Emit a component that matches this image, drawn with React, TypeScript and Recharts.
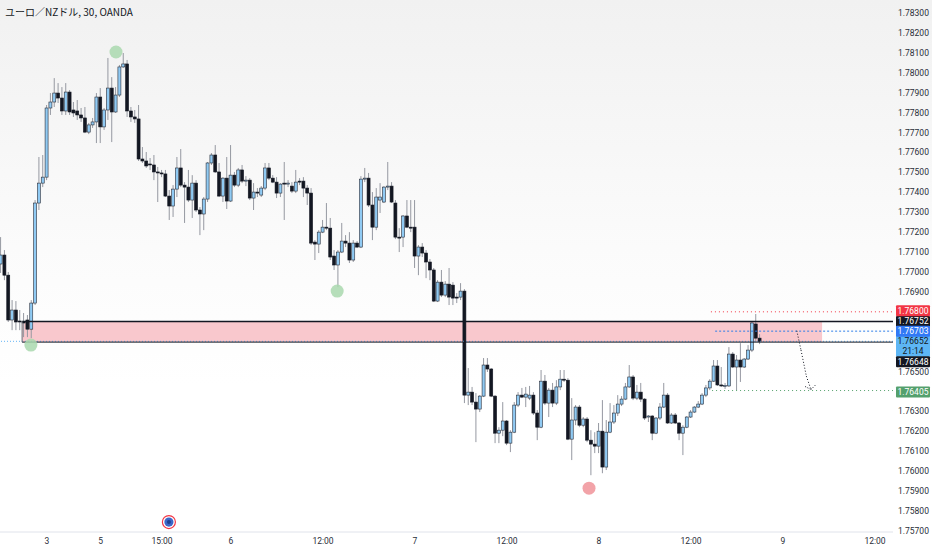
import React from "react";
import {
  ComposedChart,
  Bar,
  XAxis,
  YAxis,
  ReferenceArea,
  ReferenceLine,
  ReferenceDot,
} from "recharts";

// EUR/NZD 30分足（OANDA）。バー番号 0 = 3日 0:00
const FIRST_BAR = -12;

// [始値, 高値, 安値, 終値]
const ohlc = [
  [1.7704, 1.77175, 1.76995, 1.77085], [1.77085, 1.7711, 1.76959, 1.76984],
  [1.76984, 1.77, 1.76749, 1.76759], [1.76759, 1.76859, 1.76708, 1.76809],
  [1.76809, 1.76854, 1.76708, 1.76749], [1.76754, 1.76809, 1.76708, 1.76749],
  [1.76749, 1.76794, 1.76673, 1.76746], [1.76759, 1.76784, 1.76673, 1.76713],
  [1.76713, 1.76859, 1.76668, 1.76844], [1.76844, 1.77361, 1.76834, 1.77346],
  [1.77346, 1.77577, 1.77311, 1.77446], [1.77446, 1.77587, 1.77426, 1.77476],
  // 3日
  [1.77476, 1.77838, 1.77461, 1.77823], [1.77823, 1.77898, 1.77788, 1.77853],
  [1.77853, 1.77973, 1.77828, 1.77898], [1.77898, 1.77948, 1.77848, 1.77873],
  [1.77873, 1.77928, 1.77788, 1.77808], [1.77808, 1.77948, 1.77788, 1.77903],
  [1.77903, 1.77913, 1.77788, 1.77803], [1.77813, 1.77853, 1.77778, 1.77798],
  [1.77808, 1.77863, 1.77763, 1.77788], [1.77788, 1.77823, 1.77753, 1.77773],
  [1.77773, 1.77828, 1.77697, 1.77702], [1.77702, 1.77748, 1.77692, 1.77738],
  [1.77738, 1.77773, 1.77723, 1.77753], [1.77753, 1.77898, 1.77647, 1.77878],
  // 5日
  [1.77878, 1.77923, 1.77647, 1.77728], [1.77728, 1.77823, 1.77713, 1.77813],
  [1.77813, 1.78074, 1.77763, 1.77923], [1.77923, 1.77978, 1.77652, 1.77803],
  [1.77803, 1.77928, 1.77798, 1.77888], [1.77888, 1.78039, 1.77878, 1.78029],
  [1.78029, 1.78099, 1.78024, 1.78044], [1.78044, 1.78064, 1.77778, 1.77808],
  [1.77808, 1.77828, 1.77753, 1.77778], [1.77778, 1.77813, 1.77748, 1.77768],
  [1.77768, 1.77838, 1.77557, 1.77567], [1.77567, 1.77627, 1.77547, 1.77557],
  [1.77557, 1.77602, 1.77522, 1.77532], [1.77542, 1.77572, 1.77512, 1.77537],
  [1.77537, 1.77587, 1.77461, 1.77502], [1.77502, 1.77527, 1.77351, 1.77497],
  // 15:00
  [1.77497, 1.77512, 1.77476, 1.77492], [1.77492, 1.77512, 1.77376, 1.77381],
  [1.77381, 1.77411, 1.77261, 1.77331], [1.77331, 1.77436, 1.77276, 1.77416],
  [1.77416, 1.77577, 1.77376, 1.77522], [1.77522, 1.77617, 1.77426, 1.77436],
  [1.77436, 1.77451, 1.77246, 1.77426], [1.77426, 1.77512, 1.77351, 1.77361],
  [1.77361, 1.77486, 1.77271, 1.77446], [1.77446, 1.77461, 1.77301, 1.77311],
  [1.77311, 1.77326, 1.77185, 1.77291], [1.77291, 1.77376, 1.7721, 1.77366],
  [1.77366, 1.77552, 1.77351, 1.77547], [1.77547, 1.77597, 1.77537, 1.77587],
  [1.77587, 1.77637, 1.77497, 1.77502], [1.77502, 1.77547, 1.77376, 1.77381],
  [1.77381, 1.77476, 1.77351, 1.77471], [1.77471, 1.77577, 1.77316, 1.77356],
  // 6日
  [1.77356, 1.77637, 1.77351, 1.77486], [1.77486, 1.77502, 1.77426, 1.77436],
  [1.77436, 1.77522, 1.77426, 1.77512], [1.77512, 1.77537, 1.77446, 1.77456],
  [1.77456, 1.77481, 1.77431, 1.77461], [1.77461, 1.77471, 1.77361, 1.77371],
  [1.77371, 1.77446, 1.77311, 1.77401], [1.77401, 1.77421, 1.77376, 1.77396],
  [1.77386, 1.77431, 1.77376, 1.77421], [1.77421, 1.77547, 1.77411, 1.77522],
  [1.77522, 1.77547, 1.77461, 1.77471], [1.77471, 1.77486, 1.77446, 1.77451],
  [1.77451, 1.77476, 1.77371, 1.77396], [1.77396, 1.77446, 1.77376, 1.77441],
  [1.77446, 1.77552, 1.77261, 1.77443], [1.77441, 1.77461, 1.77426, 1.77446],
  [1.77431, 1.77451, 1.77396, 1.77406], [1.77406, 1.77512, 1.77396, 1.77451],
  [1.77456, 1.77471, 1.77436, 1.77451], [1.77456, 1.77476, 1.77376, 1.77421],
  [1.77421, 1.77436, 1.77336, 1.77396], [1.77396, 1.77421, 1.77135, 1.77145],
  [1.7715, 1.7716, 1.7706, 1.7714], [1.7714, 1.7721, 1.77095, 1.772],
  // 12:00
  [1.772, 1.77261, 1.77195, 1.77225], [1.77225, 1.77346, 1.7721, 1.7722],
  [1.7722, 1.77271, 1.7706, 1.77075], [1.7708, 1.7711, 1.7701, 1.77035],
  [1.77035, 1.7711, 1.76924, 1.771], [1.771, 1.77246, 1.77095, 1.77155],
  [1.77155, 1.77185, 1.77125, 1.77145], [1.77145, 1.772, 1.77045, 1.7706],
  [1.7706, 1.7716, 1.7705, 1.77145], [1.77145, 1.77155, 1.7712, 1.77125],
  [1.77125, 1.77481, 1.7712, 1.77466], [1.77466, 1.77522, 1.77451, 1.77471],
  [1.77471, 1.77497, 1.77326, 1.77336], [1.77336, 1.77401, 1.7716, 1.77225],
  [1.77225, 1.77421, 1.7721, 1.77376], [1.77361, 1.77446, 1.77296, 1.77376],
  [1.77351, 1.77431, 1.77346, 1.77426], [1.77426, 1.77552, 1.77411, 1.77431],
  [1.77431, 1.77451, 1.77346, 1.77351], [1.77346, 1.77361, 1.77165, 1.77175],
  [1.77175, 1.7722, 1.771, 1.7717], [1.77175, 1.77286, 1.77125, 1.77281],
  [1.77281, 1.77361, 1.7722, 1.77225], [1.77225, 1.77361, 1.772, 1.7722],
  // 7日
  [1.77225, 1.77361, 1.7702, 1.7708], [1.7708, 1.77135, 1.76984, 1.77125],
  [1.77125, 1.77145, 1.77075, 1.77095], [1.77095, 1.7711, 1.76969, 1.7705],
  [1.7705, 1.77065, 1.76959, 1.7701], [1.7701, 1.7702, 1.76849, 1.76854],
  [1.76854, 1.76959, 1.76849, 1.76949], [1.76949, 1.7701, 1.76874, 1.76884],
  [1.76884, 1.76954, 1.76874, 1.76939], [1.76939, 1.7702, 1.76834, 1.76874],
  [1.76934, 1.76949, 1.76834, 1.76869], [1.76874, 1.76894, 1.76844, 1.76871],
  [1.76874, 1.76944, 1.76859, 1.76904], [1.76904, 1.76914, 1.76342, 1.76382],
  [1.76382, 1.76518, 1.76332, 1.76397], [1.76397, 1.76423, 1.76332, 1.76347],
  [1.76347, 1.76392, 1.76146, 1.76312], [1.76312, 1.76382, 1.76297, 1.76377],
  [1.76377, 1.76568, 1.76372, 1.76533], [1.76533, 1.76568, 1.76498, 1.76513],
  [1.76513, 1.76518, 1.76372, 1.76377], [1.76377, 1.76382, 1.76141, 1.76191],
  [1.76191, 1.76221, 1.76141, 1.76206], [1.76206, 1.76347, 1.76176, 1.76252],
  // 12:00
  [1.76252, 1.76257, 1.76131, 1.76141], [1.76141, 1.76206, 1.76096, 1.76196],
  [1.76196, 1.76347, 1.76191, 1.76332], [1.76332, 1.76397, 1.76322, 1.76382],
  [1.76382, 1.76418, 1.76367, 1.76372], [1.76372, 1.76423, 1.76322, 1.76387],
  [1.76367, 1.76428, 1.76357, 1.76382], [1.76382, 1.76397, 1.76282, 1.76292],
  [1.76292, 1.76307, 1.76156, 1.76221], [1.76221, 1.76508, 1.76216, 1.76452],
  [1.76452, 1.76483, 1.76332, 1.76342], [1.76342, 1.76418, 1.76272, 1.76407],
  [1.76407, 1.76443, 1.76322, 1.76342], [1.76342, 1.76457, 1.76332, 1.76423],
  [1.76423, 1.76508, 1.76407, 1.76462], [1.76462, 1.76508, 1.76448, 1.76457],
  [1.76457, 1.76467, 1.76156, 1.76161], [1.76161, 1.76367, 1.76056, 1.76257],
  [1.76257, 1.76332, 1.76231, 1.76322], [1.76322, 1.76332, 1.76221, 1.76231],
  [1.76231, 1.76272, 1.76221, 1.76262], [1.76262, 1.76272, 1.76146, 1.76156],
  [1.76156, 1.76206, 1.7598, 1.76136], [1.76136, 1.76196, 1.76091, 1.76126],
  // 8日
  [1.76126, 1.76242, 1.76091, 1.76201], [1.76201, 1.76357, 1.7599, 1.76021],
  [1.76021, 1.76257, 1.76006, 1.76196], [1.76196, 1.76342, 1.76191, 1.76247],
  [1.76247, 1.76332, 1.76237, 1.76292], [1.76292, 1.76382, 1.76277, 1.76337],
  [1.76337, 1.76377, 1.76327, 1.76362], [1.76362, 1.76443, 1.76357, 1.76423],
  [1.76423, 1.76533, 1.76418, 1.76473], [1.76473, 1.76483, 1.76357, 1.76367],
  [1.76367, 1.76433, 1.76357, 1.76397], [1.76397, 1.76443, 1.76347, 1.76362],
  [1.76362, 1.76367, 1.76257, 1.76267], [1.76272, 1.76282, 1.76247, 1.76277],
  [1.76277, 1.76282, 1.76156, 1.76191], [1.76191, 1.76272, 1.76186, 1.76267],
  [1.76267, 1.76342, 1.76257, 1.76322], [1.76322, 1.76443, 1.76317, 1.76382],
  [1.76382, 1.76392, 1.76237, 1.76242], [1.76242, 1.76292, 1.76237, 1.76282],
  [1.76282, 1.76292, 1.76237, 1.76242], [1.76242, 1.76247, 1.76156, 1.76191],
  [1.76191, 1.76231, 1.76081, 1.76221], [1.76221, 1.76277, 1.76216, 1.76272],
  // 12:00
  [1.76272, 1.76307, 1.76267, 1.76297], [1.76297, 1.76327, 1.76292, 1.76322],
  [1.76322, 1.76352, 1.76317, 1.76337], [1.76337, 1.76392, 1.76332, 1.76382],
  [1.76382, 1.76433, 1.76372, 1.76418], [1.76418, 1.76462, 1.76407, 1.76452],
  [1.76452, 1.76558, 1.76448, 1.76528], [1.76528, 1.76558, 1.76428, 1.76433],
  [1.76433, 1.76523, 1.76423, 1.76428], [1.76428, 1.76443, 1.76413, 1.76431],
  [1.76428, 1.76623, 1.76423, 1.76588], [1.76588, 1.76598, 1.76518, 1.76523],
  [1.76523, 1.76583, 1.76407, 1.76558], [1.76558, 1.76643, 1.76448, 1.76523],
  [1.76523, 1.76568, 1.76518, 1.76563], [1.76563, 1.76633, 1.76558, 1.76608],
  [1.76608, 1.76749, 1.76598, 1.76744], [1.76739, 1.76789, 1.76648, 1.76668],
  [1.76668, 1.76688, 1.76638, 1.76652],
];

const timeTicks = [0, 14, 30, 48, 72, 96, 120, 144, 168, 192, 216];
const timeLabels = ["3", "5", "15:00", "6", "12:00", "7", "12:00", "8", "12:00", "9", "12:00"];

// ラベルと重なる目盛りは TradingView と同じく省略
const priceTicks = [
  1.757, 1.758, 1.759, 1.76, 1.761, 1.762, 1.763, 1.765, 1.769, 1.77, 1.771,
  1.772, 1.773, 1.774, 1.775, 1.776, 1.777, 1.778, 1.779, 1.78, 1.781, 1.782, 1.783,
];

const X_DOMAIN = [-12.26, 220.7];
const Y_DOMAIN = [1.75695, 1.78365];

// レジスタンスゾーン
const zoneStart = -6.5;
const zoneEnd = 202.2;
const zoneTop = 1.76752;
const zoneBottom = 1.76648;

const highLine = 1.768;
const entryLine = 1.76703;
const lastPrice = 1.76652;
const targetLine = 1.76405;

// シグナルの丸
const greenDots = [
  [18, 1.78104],
  [75.7, 1.76904],
  [-4.2, 1.76633],
];
const redDots = [[141.4, 1.75915]];
const newsDot = [31.8, 1.75745];

// 予想ルート（点線の矢印）
const arrowPath = [
  [195.6, 1.76705],
  [196.7, 1.76608],
  [198.1, 1.76477],
  [199.3, 1.7641],
];
const arrowHead = [
  [197.8, 1.76425],
  [199.3, 1.7641],
  [200.6, 1.76435],
];

const data = ohlc.map(([open, high, low, close], i) => ({
  t: FIRST_BAR + i,
  open,
  high,
  low,
  close,
}));

const Candle = (props: any) => {
  const { x, y, width, height, payload } = props;
  if (!payload || x == null || y == null) return null;
  const top = height < 0 ? y + height : y;
  const h = Math.abs(height);
  const { open, high, low, close } = payload;
  const span = high - low || 1e-9;
  const toY = (v: number) => top + ((high - v) / span) * h;
  const cx = x + width / 2;
  const up = close >= open;
  const bodyTop = toY(Math.max(open, close));
  const bodyBottom = toY(Math.min(open, close));
  return (
    <g>
      <line x1={cx} x2={cx} y1={top} y2={top + h} stroke="#9598a1" strokeWidth={1} />
      <rect
        x={x}
        y={bodyTop}
        width={width}
        height={Math.max(bodyBottom - bodyTop, 1)}
        fill={up ? "#90caf3" : "#131722"}
        stroke={up ? "#2a2e39" : "#131722"}
        strokeWidth={0.6}
      />
    </g>
  );
};

const PriceTag = (props: any) => {
  const { viewBox, text, sub, bg, fg, dy = 0 } = props;
  if (!viewBox) return null;
  const left = viewBox.x + viewBox.width + 3;
  const cy = viewBox.y + dy;
  const h = sub ? 21 : 11;
  return (
    <g>
      <rect x={left} y={cy - 5.5} width={34} height={h} fill={bg} rx={1} />
      <text x={left + 17} y={cy} dy="0.35em" textAnchor="middle" fontSize={8.5} fill={fg}>
        {text}
      </text>
      {sub && (
        <text x={left + 17} y={cy + 10} dy="0.35em" textAnchor="middle" fontSize={8.5} fill={fg}>
          {sub}
        </text>
      )}
    </g>
  );
};

const NewsIcon = (props: any) => {
  const { cx, cy } = props;
  return (
    <g>
      <circle cx={cx} cy={cy} r={6.5} fill="#fff" stroke="#f23645" strokeWidth={1.2} />
      <circle cx={cx} cy={cy} r={4.6} fill="#3b67c9" />
      <circle cx={cx} cy={cy} r={2} fill="#1d3f91" />
    </g>
  );
};

const seg = (a: number[], b: number[]) => [
  { x: a[0], y: a[1] },
  { x: b[0], y: b[1] },
];

export default function App() {
  return (
    <div
      style={{
        position: "relative",
        width: 932,
        height: 550,
        background: "linear-gradient(to bottom, #f1f1f1 0%, #fbfbfb 45%, #ffffff 70%)",
        fontFamily: "Roboto, 'Noto Sans CJK JP', sans-serif",
      }}
    >
      <style>{"body{margin:0}"}</style>
      <div
        style={{
          position: "absolute",
          left: 5,
          top: 6,
          fontSize: 10,
          lineHeight: "12px",
          color: "#131722",
          fontFamily: "'Noto Sans CJK JP', Roboto, sans-serif",
        }}
      >
        ユーロ／NZドル, 30, OANDA
      </div>
      <ComposedChart width={932} height={550} data={data} margin={{ top: 0, right: 0, bottom: 0, left: 0 }}>
        <XAxis
          type="number"
          dataKey="t"
          domain={X_DOMAIN}
          allowDataOverflow
          ticks={timeTicks}
          interval={0}
          tickFormatter={(v: number) => timeLabels[timeTicks.indexOf(v)]}
          axisLine={{ stroke: "#e0e3eb" }}
          tickLine={false}
          tickSize={4}
          tickMargin={2}
          height={18}
          tick={{ fontSize: 8.5, fill: "#2a2e39" }}
        />
        <YAxis
          orientation="right"
          domain={Y_DOMAIN}
          allowDataOverflow
          ticks={priceTicks}
          interval={0}
          tickFormatter={(v: number) => v.toFixed(5)}
          width={39}
          axisLine={false}
          tickLine={false}
          tickSize={3}
          tickMargin={2}
          tick={{ fontSize: 8.5, fill: "#2a2e39" }}
        />

        <ReferenceArea
          x1={zoneStart}
          x2={zoneEnd}
          y1={zoneBottom}
          y2={zoneTop}
          fill="#f9c8cd"
          fillOpacity={1}
          stroke="none"
          ifOverflow="visible"
        />
        <ReferenceLine
          y={lastPrice}
          stroke="#64b5f6"
          strokeDasharray="1 2"
          label={<PriceTag text="1.76652" sub="21:14" bg="#5db6f5" fg="#131722" dy={0} />}
        />
        <ReferenceLine
          segment={seg([zoneStart, zoneTop], [X_DOMAIN[1], zoneTop])}
          stroke="#131722"
          strokeWidth={1.5}
          ifOverflow="visible"
          label={<PriceTag text="1.76752" bg="#131722" fg="#ffffff" dy={0} />}
        />
        <ReferenceLine
          segment={seg([zoneStart, zoneBottom], [X_DOMAIN[1], zoneBottom])}
          stroke="#131722"
          strokeWidth={1}
          ifOverflow="visible"
          label={<PriceTag text="1.76648" bg="#131722" fg="#ffffff" dy={19.6} />}
        />
        <ReferenceLine
          segment={seg([zoneStart, zoneBottom], [zoneStart, zoneTop])}
          stroke="#6a6d78"
          strokeWidth={1}
          ifOverflow="visible"
        />

        <Bar dataKey={(d: any) => [d.low, d.high]} barSize={3} shape={(p: any) => <Candle {...p} />} isAnimationActive={false} />

        <ReferenceLine
          segment={seg([173.2, highLine], [X_DOMAIN[1], highLine])}
          stroke="#f23645"
          strokeDasharray="1 3"
          ifOverflow="visible"
          label={<PriceTag text="1.76800" bg="#f23645" fg="#ffffff" dy={-1} />}
        />
        <ReferenceLine
          segment={seg([174.3, entryLine], [X_DOMAIN[1], entryLine])}
          stroke="#2f7fe8"
          strokeDasharray="2 2"
          ifOverflow="visible"
          label={<PriceTag text="1.76703" bg="#3179f5" fg="#ffffff" dy={0} />}
        />
        <ReferenceLine
          segment={seg([173.5, targetLine], [X_DOMAIN[1], targetLine])}
          stroke="#54a06d"
          strokeDasharray="1 3"
          ifOverflow="visible"
          label={<PriceTag text="1.76405" bg="#54a06d" fg="#ffffff" dy={1.5} />}
        />

        {arrowPath.slice(1).map((p, i) => (
          <ReferenceLine
            key={"a" + i}
            segment={seg(arrowPath[i], p)}
            stroke="#131722"
            strokeDasharray="1 2"
            ifOverflow="visible"
          />
        ))}
        {arrowHead.slice(1).map((p, i) => (
          <ReferenceLine
            key={"h" + i}
            segment={seg(arrowHead[i], p)}
            stroke="#131722"
            strokeDasharray="1 1.5"
            ifOverflow="visible"
          />
        ))}

        {greenDots.map(([t, p], i) => (
          <ReferenceDot key={"g" + i} x={t} y={p} r={6.5} fill="#a9d8ae" fillOpacity={0.85} stroke="none" ifOverflow="visible" />
        ))}
        {redDots.map(([t, p], i) => (
          <ReferenceDot key={"r" + i} x={t} y={p} r={6.5} fill="#f1999f" fillOpacity={0.9} stroke="none" ifOverflow="visible" />
        ))}
        <ReferenceDot x={newsDot[0]} y={newsDot[1]} r={6.5} shape={(p: any) => <NewsIcon {...p} />} ifOverflow="visible" />
      </ComposedChart>
    </div>
  );
}
